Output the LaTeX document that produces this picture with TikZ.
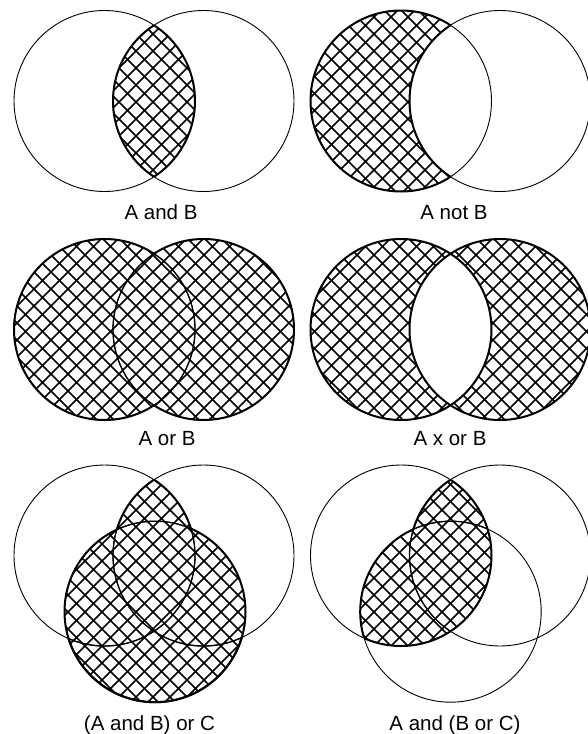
\documentclass[tikz,border=0pt]{standalone}
\usepackage{fontspec}
\setmainfont{Liberation Sans}
\usetikzlibrary{positioning}

\newcommand{\vennr}{90.5pt}
% a disc, and everything but a disc (for clipping)
\newcommand{\disc}[1]{(#1) circle[radius=\vennr]}
\newcommand{\outside}[1]{(#1) circle[radius=\vennr] (ne) rectangle (sw)}
\newcommand{\crosshatch}{%
  \foreach \hpos in {0,17,...,1340} {
    \draw[hatchline] (\hpos,0) -- ++(-740,740);
  }
  \foreach \hpos in {-748,-731,...,600} {
    \draw[hatchline] (\hpos,0) -- ++(740,740);
  }
}

\begin{document}
\begin{tikzpicture}[x=1pt, y=-1pt,
        venn/.style={draw, line width=0.9pt},
        inner/.style={draw, line width=1.3pt},
        rim/.style={draw, line width=2pt},
        hatchline/.style={line width=1.7pt},
        vlabel/.style={font=\fontsize{20.5}{24}\selectfont, anchor=base}
    ]
    \useasboundingbox (0,0) rectangle (588,734);
    \coordinate (ne) at (600,-10);
    \coordinate (sw) at (-10,745);

    % circle centres
    \coordinate (a1) at (104.5,101);   \coordinate (b1) at (203.5,101);
    \coordinate (a2) at (401,101);     \coordinate (b2) at (500,101);
    \coordinate (a3) at (104.5,329.5); \coordinate (b3) at (203.5,329.5);
    \coordinate (a4) at (401,329.5);   \coordinate (b4) at (500,329.5);
    \coordinate (a5) at (104.5,555.5); \coordinate (b5) at (203.5,555.5);
    \coordinate (c5) at (155,611.7);
    \coordinate (a6) at (401,555.5);   \coordinate (b6) at (500,555.5);
    \coordinate (c6) at (450.7,611.7);

    % A and B
    \begin{scope}
        \clip \disc{a1}; \clip \disc{b1};
        \crosshatch
    \end{scope}
    \draw[venn] \disc{a1} \disc{b1};
    \begin{scope} \clip \disc{b1}; \draw[rim] \disc{a1}; \end{scope}
    \begin{scope} \clip \disc{a1}; \draw[rim] \disc{b1}; \end{scope}

    % A not B
    \begin{scope}
        \clip \disc{a2};
        \crosshatch
    \end{scope}
    \fill[white] \disc{b2};
    \draw[venn] \disc{a2} \disc{b2};
    \begin{scope} \clip \outside{b2}; \draw[rim] \disc{a2}; \end{scope}
    \begin{scope} \clip \disc{a2}; \draw[rim] \disc{b2}; \end{scope}

    % A or B
    \begin{scope}
        \clip \disc{a3} \disc{b3};
        \crosshatch
    \end{scope}
    \draw[venn] \disc{a3} \disc{b3};
    \begin{scope} \clip \disc{b3}; \draw[inner] \disc{a3}; \end{scope}
    \begin{scope} \clip \disc{a3}; \draw[inner] \disc{b3}; \end{scope}
    \begin{scope} \clip \outside{b3}; \draw[rim] \disc{a3}; \end{scope}
    \begin{scope} \clip \outside{a3}; \draw[rim] \disc{b3}; \end{scope}

    % A x or B
    \begin{scope}
        \clip \disc{a4} \disc{b4};
        \crosshatch
    \end{scope}
    \begin{scope}
        \clip \disc{a4};
        \fill[white] \disc{b4};
    \end{scope}
    \draw[rim] \disc{a4} \disc{b4};

    % (A and B) or C
    \begin{scope}
        \clip \disc{a5}; \clip \disc{b5};
        \crosshatch
    \end{scope}
    \fill[white] \disc{c5};
    \begin{scope}
        \clip \disc{c5};
        \crosshatch
    \end{scope}
    \draw[venn] \disc{a5} \disc{b5} \disc{c5};
    \begin{scope} \clip \disc{c5}; \draw[inner] \disc{a5} \disc{b5}; \end{scope}
    \begin{scope} \clip \disc{a5}; \clip \disc{b5}; \draw[inner] \disc{c5}; \end{scope}
    \begin{scope} \clip \disc{b5}; \clip \outside{c5}; \draw[rim] \disc{a5}; \end{scope}
    \begin{scope} \clip \disc{a5}; \clip \outside{c5}; \draw[rim] \disc{b5}; \end{scope}
    \begin{scope} \clip \outside{a5}; \draw[rim] \disc{c5}; \end{scope}
    \begin{scope} \clip \outside{b5}; \draw[rim] \disc{c5}; \end{scope}

    % A and (B or C)
    \begin{scope}
        \clip \disc{a6};
        \begin{scope} \clip \disc{b6}; \crosshatch \end{scope}
        \fill[white] \disc{c6};
        \begin{scope} \clip \disc{c6}; \crosshatch \end{scope}
    \end{scope}
    \draw[venn] \disc{a6} \disc{b6} \disc{c6};
    \begin{scope} \clip \disc{a6}; \clip \disc{c6}; \draw[inner] \disc{b6}; \end{scope}
    \begin{scope} \clip \disc{a6}; \clip \disc{b6}; \draw[inner] \disc{c6}; \end{scope}
    \begin{scope} \clip \disc{b6} \disc{c6}; \draw[rim] \disc{a6}; \end{scope}
    \begin{scope} \clip \disc{a6}; \clip \outside{c6}; \draw[rim] \disc{b6}; \end{scope}
    \begin{scope} \clip \disc{a6}; \clip \outside{b6}; \draw[rim] \disc{c6}; \end{scope}

    % captions
    \node[vlabel] (andlbl)   at (161,219)   {A and B};
    \node[vlabel] (notlbl)   at (454,219)   {A not B};
    \node[vlabel] (orlbl)    at (167,445)   {A or B};
    \node[vlabel] (xorlbl)   at (450,445)   {A x or B};
    \node[vlabel] (andorlbl) at (149.5,730) {(A and B) or C};
    \node[vlabel] (orandlbl) at (455,730)   {A and (B or C)};
\end{tikzpicture}
\end{document}
